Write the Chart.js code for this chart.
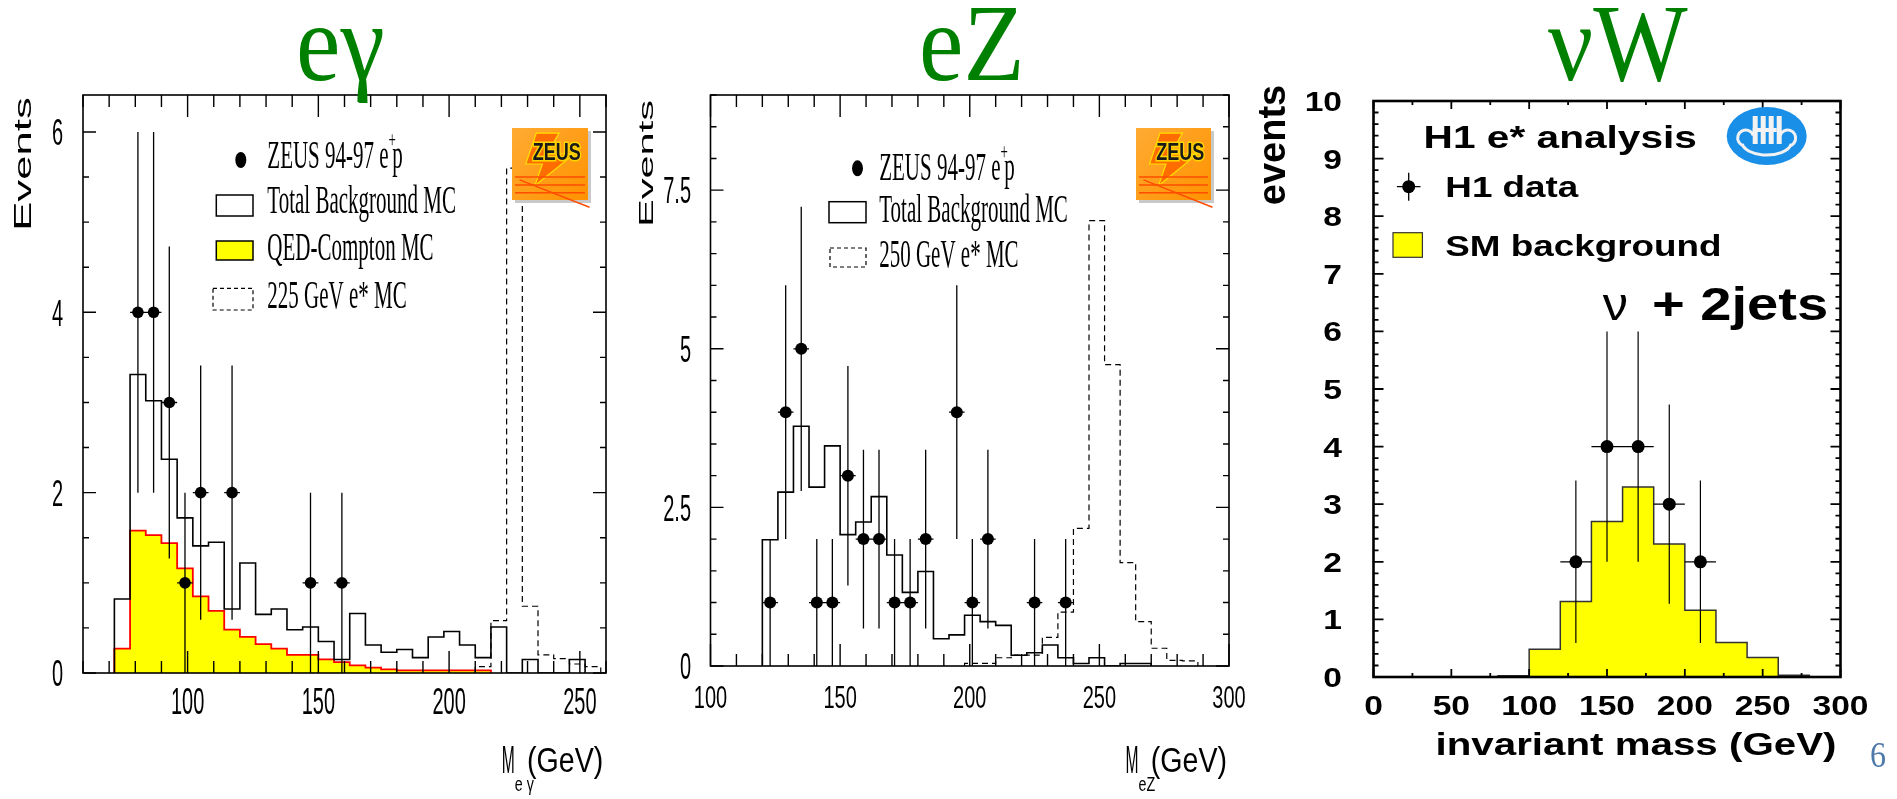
<!DOCTYPE html>
<html>
<head>
<meta charset="utf-8">
<title>Excited electron searches</title>
<script src="https://cdn.jsdelivr.net/npm/chart.js@4.4.1/dist/chart.umd.min.js"></script>
<style>
  html, body { margin: 0; padding: 0; background: #fff; overflow: hidden; }
  canvas { position: absolute; left: 0; top: 0; }
</style>
</head>
<body>
<canvas id="egChart" width="1897" height="799"></canvas>
<canvas id="ezChart" width="1897" height="799"></canvas>
<canvas id="nwChart" width="1897" height="799"></canvas>
<script>
const W = 1897, H = 799;
const SANS = '"Liberation Sans", Arial, Helvetica, sans-serif';
const SERIF = '"Liberation Serif", "Times New Roman", serif';
const GREEN = '#008000';

// e gamma (ZEUS), 6 GeV bins
const egBinStart = 72, egBinWidth = 6;
const egTotalBg = [0.82, 3.31, 3.02, 2.37, 1.72, 1.41, 1.45, 0.71, 1.22, 0.65, 0.71, 0.48, 0.51, 0.35, 0.15,
                   0.66, 0.31, 0.23, 0.26, 0.17, 0.40, 0.46, 0.31, 0.17, 0.51, 0, 0.15, 0, 0, 0.15];
const egCompton = [0.27, 1.58, 1.53, 1.44, 1.16, 0.85, 0.69, 0.48, 0.40, 0.32, 0.27, 0.20, 0.20, 0.15, 0.12,
                   0.085, 0.06, 0.04, 0.03, 0.03, 0.03, 0.03, 0.03, 0.03];
const egSignalStart = 210;
const egSignal = [0.07, 0.58, 5.6, 0.74, 0.20, 0.16, 0.10, 0.07];
const egDataX = [81, 87, 93, 99, 105, 117, 147, 159];
const egDataY = [4, 4, 3, 1, 2, 2, 1, 1];
const egDataErr = [2, 2, 1.73, 1, 1.41, 1.41, 1, 1];
const egXTicks = [100, 150, 200, 250];
const egYTicks = [0, 2, 4, 6];

// eZ (ZEUS), 6 GeV bins
const ezBinStart = 120, ezBinWidth = 6;
const ezTotalBg = [1.99, 2.74, 3.78, 2.82, 3.47, 2.07, 2.27, 2.67, 1.75, 1.16, 1.49, 0.43, 0.49, 0.80, 0.70,
                   0.64, 0.17, 0.21, 0.33, 0.13, 0.04, 0.13, 0, 0.04, 0.04];
const ezSignalStart = 198;
const ezSignal = [0.04, 0.04, 0.13, 0.17, 0.17, 0.45, 0.85, 2.17, 7.02, 4.75, 1.63, 0.70, 0.28, 0.09, 0.08];
const ezDataX = [123, 129, 135, 141, 147, 153, 159, 165, 171, 177, 183, 195, 201, 207, 225, 237];
const ezDataY = [1, 4, 5, 1, 1, 3, 2, 2, 1, 1, 2, 4, 1, 2, 1, 1];
const ezDataErr = [1, 2, 2.24, 1, 1, 1.73, 1.41, 1.41, 1, 1, 1.41, 2, 1, 1.41, 1, 1];
const ezXTicks = [100, 150, 200, 250, 300];
const ezYTicks = [0, 2.5, 5, 7.5];

// nu W (H1), 20 GeV bins
const nwBinStart = 80, nwBinWidth = 20;
const nwBackground = [0.02, 0.48, 1.31, 2.70, 3.30, 2.31, 1.16, 0.60, 0.34, 0.03];
const nwDataX = [130, 150, 170, 190, 210];
const nwDataY = [2, 4, 4, 3, 2];
const nwDataErr = [1.41, 2, 2, 1.73, 1.41];
const nwXTicks = [0, 50, 100, 150, 200, 250, 300];
const nwYTicks = [0, 1, 2, 3, 4, 5, 6, 7, 8, 9, 10];

function histPoints(start, width, values) {
  const pts = [{ x: start, y: 0 }];
  values.forEach((v, i) => pts.push({ x: start + i * width, y: v }));
  pts.push({ x: start + values.length * width, y: 0 });
  return pts;
}

function errorBars(xs, ys, errs, xHalf) {
  const pts = [];
  xs.forEach((x, i) => {
    pts.push({ x, y: ys[i] - errs[i] }, { x, y: ys[i] + errs[i] }, { x, y: null });
    pts.push({ x: x - xHalf, y: ys[i] }, { x: x + xHalf, y: ys[i] }, { x, y: null });
  });
  return pts;
}

function points(xs, ys) {
  return xs.map((x, i) => ({ x, y: ys[i] }));
}

function stretchText(ctx, text, x, y, font, sx, sy, align, color) {
  ctx.save();
  ctx.translate(x, y);
  ctx.scale(sx, sy);
  ctx.font = font;
  ctx.textAlign = align || 'left';
  ctx.textBaseline = 'alphabetic';
  ctx.fillStyle = color || '#000';
  ctx.fillText(text, 0, 0);
  ctx.restore();
}

function rotText(ctx, text, x, y, font, sx, baseOff) {
  ctx.save();
  ctx.translate(x, y);
  ctx.rotate(-Math.PI / 2);
  ctx.scale(sx, 1);
  ctx.font = font;
  ctx.textAlign = 'center';
  ctx.fillStyle = '#000';
  ctx.fillText(text, 0, baseOff);
  ctx.restore();
}

function layout(left, top, right, bottom) {
  return { padding: { left, top, right: W - right, bottom: H - bottom } };
}

// box, inward ticks on all four sides, tick labels
const framePlugin = {
  id: 'frame',
  afterDatasetsDraw(chart, args, o) {
    const { ctx, chartArea: a } = chart;
    const xs = chart.scales.x, ys = chart.scales.y;
    const near = (list, v) => list.some(t => Math.abs(t - v) < 1e-6);
    const steps = (min, max, step) => {
      const out = [];
      for (let k = Math.ceil(min / step - 1e-6); k * step <= max + 1e-6; k++) out.push(k * step);
      return out;
    };
    ctx.save();
    ctx.strokeStyle = '#000';
    ctx.lineWidth = o.tickWidth;
    ctx.beginPath();
    steps(xs.min, xs.max, o.xStep).forEach(v => {
      const px = xs.getPixelForValue(v);
      const len = near(o.xTicks, v) ? o.xMajor : o.xMinor;
      ctx.moveTo(px, a.bottom); ctx.lineTo(px, a.bottom - len);
      ctx.moveTo(px, a.top); ctx.lineTo(px, a.top + len);
    });
    steps(ys.min, ys.max, o.yStep).forEach(v => {
      const py = ys.getPixelForValue(v);
      const len = near(o.yTicks, v) ? o.yMajor : o.yMinor;
      ctx.moveTo(a.left, py); ctx.lineTo(a.left + len, py);
      ctx.moveTo(a.right, py); ctx.lineTo(a.right - len, py);
    });
    ctx.stroke();
    ctx.lineWidth = o.lineWidth;
    ctx.strokeRect(a.left, a.top, a.right - a.left, a.bottom - a.top);
    const f = o.label;
    o.xTicks.forEach(v => stretchText(ctx, String(v), xs.getPixelForValue(v), f.xBase, f.font, f.sx, f.xsy, 'center'));
    o.yTicks.forEach(v => stretchText(ctx, String(v), f.yRight, ys.getPixelForValue(v) + f.cap * f.ysy / 2,
      f.font, f.sx, f.ysy, 'right'));
    ctx.restore();
  }
};

function zeusLogo(ctx, x, y, w, h) {
  ctx.save();
  ctx.fillStyle = '#c9c9c9';
  ctx.fillRect(x + 3, y + 3, w, h);
  const g = ctx.createLinearGradient(x, y, x + w, y + h);
  g.addColorStop(0, '#ffab33');
  g.addColorStop(1, '#ff9200');
  ctx.fillStyle = g;
  ctx.fillRect(x, y, w, h);
  ctx.beginPath();
  ctx.moveTo(x + w * 0.32, y + h * 0.07);
  ctx.lineTo(x + w * 0.62, y + h * 0.07);
  ctx.lineTo(x + w * 0.46, y + h * 0.36);
  ctx.lineTo(x + w * 0.82, y + h * 0.36);
  ctx.lineTo(x + w * 0.30, y + h * 0.80);
  ctx.lineTo(x + w * 0.40, y + h * 0.50);
  ctx.lineTo(x + w * 0.18, y + h * 0.50);
  ctx.closePath();
  ctx.fillStyle = '#ff6d00';
  ctx.fill();
  ctx.strokeStyle = '#ffe000';
  ctx.lineWidth = 1.2;
  ctx.stroke();
  ctx.strokeStyle = '#ff4d00';
  ctx.lineWidth = 1.5;
  [0.68, 0.79, 0.9].forEach(k => {
    ctx.beginPath(); ctx.moveTo(x + 3, y + h * k); ctx.lineTo(x + w - 3, y + h * k); ctx.stroke();
  });
  ctx.beginPath(); ctx.moveTo(x + w * 0.1, y + h * 0.72); ctx.lineTo(x + w * 1.02, y + h * 1.1); ctx.stroke();
  ctx.translate(x + w * 0.59, y + h * 0.44);
  ctx.scale(1, 1.3);
  ctx.font = 'bold 18px ' + SANS;
  ctx.textAlign = 'center';
  ctx.lineWidth = 2.5;
  ctx.strokeStyle = '#ffd400';
  ctx.strokeText('ZEUS', 0, 0);
  ctx.fillStyle = '#1a1a1a';
  ctx.fillText('ZEUS', 0, 0);
  ctx.restore();
}

function h1Logo(ctx, cx, cy, rx, ry) {
  ctx.save();
  ctx.fillStyle = '#1a8fe8';
  ctx.beginPath(); ctx.ellipse(cx, cy, rx, ry, 0, 0, Math.PI * 2); ctx.fill();
  ctx.fillStyle = '#f2f2f2';
  [-14, -6, 2, 10].forEach(dx => ctx.fillRect(cx + dx, cy - 20, 5, 28));
  ctx.fillRect(cx - 14, cy - 8, 24, 4);
  ctx.strokeStyle = '#f2f2f2';
  ctx.lineWidth = 3;
  ctx.beginPath(); ctx.ellipse(cx, cy + 6, rx * 0.62, ry * 0.45, 0, 0.05 * Math.PI, 0.95 * Math.PI); ctx.stroke();
  ctx.beginPath(); ctx.arc(cx - 21, cy + 2, 8, 0.6 * Math.PI, 1.9 * Math.PI); ctx.stroke();
  ctx.beginPath(); ctx.arc(cx + 21, cy + 2, 8, 1.1 * Math.PI, 2.4 * Math.PI); ctx.stroke();
  ctx.restore();
}

function serifLegend(ctx, x, y, text, sup, tail) {
  const font = '21px ' + SERIF;
  stretchText(ctx, text, x, y, font, 1, 1.9, 'left');
  if (!sup) return;
  ctx.save();
  ctx.font = font;
  const w = ctx.measureText(text).width;
  ctx.font = '13px ' + SERIF;
  const ws = ctx.measureText(sup).width;
  ctx.restore();
  stretchText(ctx, sup, x + w, y - 21, '13px ' + SERIF, 1, 1.7, 'left');
  stretchText(ctx, tail, x + w + ws * 0.5, y, font, 1, 1.9, 'left');
}

// mass axis title: narrow M, subscript, then (GeV) right-aligned
function massTitle(ctx, right, base, sub) {
  stretchText(ctx, 'M', right - 101.6, base + 1, '24px ' + SANS, 0.65, 1.6, 'left');
  stretchText(ctx, sub, right - 88.5, base + 19, '15px ' + SANS, 0.95, 1.4, 'left');
  stretchText(ctx, '(GeV)', right, base, '26px ' + SANS, 1.1, 1.35, 'right');
}

function dot(ctx, x, y, rx, ry) {
  ctx.beginPath(); ctx.ellipse(x, y, rx, ry, 0, 0, Math.PI * 2); ctx.fillStyle = '#000'; ctx.fill();
}

const zeusLabels = { font: '20px ' + SANS, sx: 1, cap: 14.3 };

// ---------- e gamma ----------
new Chart(document.getElementById('egChart'), {
  type: 'line',
  data: {
    datasets: [
      { label: 'ZEUS 94-97 e+p', data: points(egDataX, egDataY), showLine: false,
        pointRadius: 5.8, pointBackgroundColor: '#000', pointBorderColor: '#000', pointBorderWidth: 0 },
      { label: 'data errors', data: errorBars(egDataX, egDataY, egDataErr, 3),
        borderColor: '#000', borderWidth: 1.3, pointRadius: 0 },
      { label: 'Total Background MC', data: histPoints(egBinStart, egBinWidth, egTotalBg), stepped: true,
        borderColor: '#000', borderWidth: 1.6, pointRadius: 0 },
      { label: '225 GeV e* MC', data: histPoints(egSignalStart, egBinWidth, egSignal), stepped: true,
        borderColor: '#000', borderWidth: 1.2, borderDash: [6, 4], pointRadius: 0 },
      { label: 'QED-Compton MC', data: histPoints(egBinStart, egBinWidth, egCompton), stepped: true,
        borderColor: '#ff0000', borderWidth: 1.8, backgroundColor: '#ffff00', fill: 'origin', pointRadius: 0 }
    ]
  },
  options: {
    responsive: false, animation: false, events: [],
    layout: layout(83, 95, 606, 673),
    scales: {
      x: { type: 'linear', min: 60, max: 260, display: false },
      y: { type: 'linear', min: 0, max: 6.41, display: false }
    },
    plugins: {
      legend: { display: false }, tooltip: { enabled: false },
      frame: { lineWidth: 1.6, tickWidth: 1.4, xStep: 10, yStep: 0.5, xTicks: egXTicks, yTicks: egYTicks,
        xMajor: 22, xMinor: 12, yMajor: 13, yMinor: 6,
        label: Object.assign({ xBase: 713.5, xsy: 1.85, ysy: 1.85, yRight: 63 }, zeusLabels) }
    }
  },
  plugins: [framePlugin, {
    id: 'egText',
    afterDraw(chart) {
      const ctx = chart.ctx;
      stretchText(ctx, 'eγ', 296, 80, '100px ' + SERIF, 1, 1.1, 'left', GREEN);
      rotText(ctx, 'Events', 22.5, 164, '23px ' + SANS, 1.9, 8.2);
      massTitle(ctx, 603.3, 772, 'e γ');
      dot(ctx, 240.8, 160, 5.5, 8);
      serifLegend(ctx, 267.3, 168.3, 'ZEUS 94-97 e', '+', 'p');
      ctx.save();
      ctx.strokeStyle = '#000'; ctx.lineWidth = 1.5;
      ctx.strokeRect(216.3, 195, 36.7, 21);
      ctx.fillStyle = '#ffff00'; ctx.fillRect(216.3, 241, 36.7, 19);
      ctx.strokeRect(216.3, 241, 36.7, 19);
      ctx.setLineDash([4, 3]); ctx.lineWidth = 1.2;
      ctx.strokeRect(213, 288.3, 40, 21.7);
      ctx.restore();
      serifLegend(ctx, 267.3, 213.3, 'Total Background MC');
      serifLegend(ctx, 267.3, 260, 'QED-Compton MC');
      serifLegend(ctx, 267.3, 308.3, '225 GeV e* MC');
      zeusLogo(ctx, 512, 128, 76, 72);
    }
  }]
});

// ---------- e Z ----------
new Chart(document.getElementById('ezChart'), {
  type: 'line',
  data: {
    datasets: [
      { label: 'ZEUS 94-97 e+p', data: points(ezDataX, ezDataY), showLine: false,
        pointRadius: 6, pointBackgroundColor: '#000', pointBorderColor: '#000', pointBorderWidth: 0 },
      { label: 'data errors', data: errorBars(ezDataX, ezDataY, ezDataErr, 3),
        borderColor: '#000', borderWidth: 1.3, pointRadius: 0 },
      { label: 'Total Background MC', data: histPoints(ezBinStart, ezBinWidth, ezTotalBg), stepped: true,
        borderColor: '#000', borderWidth: 1.6, pointRadius: 0 },
      { label: '250 GeV e* MC', data: histPoints(ezSignalStart, ezBinWidth, ezSignal), stepped: true,
        borderColor: '#000', borderWidth: 1.2, borderDash: [6, 4], pointRadius: 0 }
    ]
  },
  options: {
    responsive: false, animation: false, events: [],
    layout: layout(710.5, 95, 1229, 666),
    scales: {
      x: { type: 'linear', min: 100, max: 300, display: false },
      y: { type: 'linear', min: 0, max: 9, display: false }
    },
    plugins: {
      legend: { display: false }, tooltip: { enabled: false },
      frame: { lineWidth: 1.6, tickWidth: 1.4, xStep: 10, yStep: 0.5, xTicks: ezXTicks, yTicks: ezYTicks,
        xMajor: 22, xMinor: 12, yMajor: 13, yMinor: 6,
        label: Object.assign({ xBase: 708, xsy: 1.6, ysy: 1.85, yRight: 691 }, zeusLabels) }
    }
  },
  plugins: [framePlugin, {
    id: 'ezText',
    afterDraw(chart) {
      const ctx = chart.ctx;
      stretchText(ctx, 'eZ', 919, 80, '100px ' + SERIF, 1, 1.1, 'left', GREEN);
      rotText(ctx, 'Events', 645.5, 163.5, '21px ' + SANS, 1.98, 7.5);
      massTitle(ctx, 1227, 772, 'eZ');
      dot(ctx, 857.5, 168.3, 5.5, 8);
      serifLegend(ctx, 879.2, 180, 'ZEUS 94-97 e', '+', 'p');
      ctx.save();
      ctx.strokeStyle = '#000'; ctx.lineWidth = 1.5;
      ctx.strokeRect(829, 201.7, 37, 21);
      ctx.setLineDash([4, 3]); ctx.lineWidth = 1.2;
      ctx.strokeRect(830, 248, 36, 19);
      ctx.restore();
      serifLegend(ctx, 879.2, 221.7, 'Total Background MC');
      serifLegend(ctx, 879.2, 266.7, '250 GeV e* MC');
      zeusLogo(ctx, 1136, 128, 75, 72);
    }
  }]
});

// ---------- nu W ----------
new Chart(document.getElementById('nwChart'), {
  type: 'line',
  data: {
    datasets: [
      { label: 'H1 data', data: points(nwDataX, nwDataY), showLine: false,
        pointRadius: 6.5, pointBackgroundColor: '#000', pointBorderColor: '#000', pointBorderWidth: 0 },
      { label: 'data errors', data: errorBars(nwDataX, nwDataY, nwDataErr, 10),
        borderColor: '#000', borderWidth: 1.2, pointRadius: 0 },
      { label: 'SM background', data: histPoints(nwBinStart, nwBinWidth, nwBackground), stepped: true,
        borderColor: '#333', borderWidth: 1.5, backgroundColor: '#ffff00', fill: 'origin', pointRadius: 0 }
    ]
  },
  options: {
    responsive: false, animation: false, events: [],
    layout: layout(1373.5, 101, 1840.5, 677),
    scales: {
      x: { type: 'linear', min: 0, max: 300, display: false },
      y: { type: 'linear', min: 0, max: 10, display: false }
    },
    plugins: {
      legend: { display: false }, tooltip: { enabled: false },
      frame: { lineWidth: 2.6, tickWidth: 1.8, xStep: 25, yStep: 0.2, xTicks: nwXTicks, yTicks: nwYTicks,
        xMajor: 8, xMinor: 4, yMajor: 10, yMinor: 5,
        label: { font: 'bold 28px ' + SANS, sx: 1.2, cap: 20, xBase: 715, xsy: 1, ysy: 1, yRight: 1342 } }
    }
  },
  plugins: [framePlugin, {
    id: 'nwText',
    afterDraw(chart) {
      const ctx = chart.ctx;
      stretchText(ctx, 'νW', 1548, 80, '100px ' + SERIF, 1, 1.1, 'left', GREEN);
      rotText(ctx, 'events', 1285, 145, 'bold 38px ' + SANS, 1, 0);
      stretchText(ctx, 'invariant mass (GeV)', 1636, 755, 'bold 31px ' + SANS, 1.3, 1, 'center');
      stretchText(ctx, 'H1 e* analysis', 1423.6, 148.3, 'bold 32px ' + SANS, 1.27, 1, 'left');
      h1Logo(ctx, 1766.7, 136, 40, 29);
      ctx.save();
      ctx.strokeStyle = '#000'; ctx.lineWidth = 1.3;
      ctx.beginPath();
      ctx.moveTo(1408.7, 172.7); ctx.lineTo(1408.7, 200.7);
      ctx.moveTo(1396.9, 186.7); ctx.lineTo(1420.5, 186.7);
      ctx.stroke();
      ctx.restore();
      dot(ctx, 1408.7, 186.7, 6.5, 6.5);
      stretchText(ctx, 'H1 data', 1445.3, 197.3, 'bold 29px ' + SANS, 1.27, 1, 'left');
      ctx.save();
      ctx.fillStyle = '#ffff00'; ctx.fillRect(1393, 232.7, 29.4, 24.6);
      ctx.strokeStyle = '#333'; ctx.lineWidth = 1.2; ctx.strokeRect(1393, 232.7, 29.4, 24.6);
      ctx.restore();
      stretchText(ctx, 'SM background', 1445.3, 255.7, 'bold 29px ' + SANS, 1.27, 1, 'left');
      stretchText(ctx, 'ν', 1602.7, 320, '46px ' + SANS, 1.1, 1, 'left');
      stretchText(ctx, '+ 2jets', 1651.9, 320, 'bold 46px ' + SANS, 1.22, 1, 'left');
      stretchText(ctx, '6', 1870, 767, '32px ' + SERIF, 1, 1.1, 'left', '#4d79ab');
    }
  }]
});
</script>
</body>
</html>
